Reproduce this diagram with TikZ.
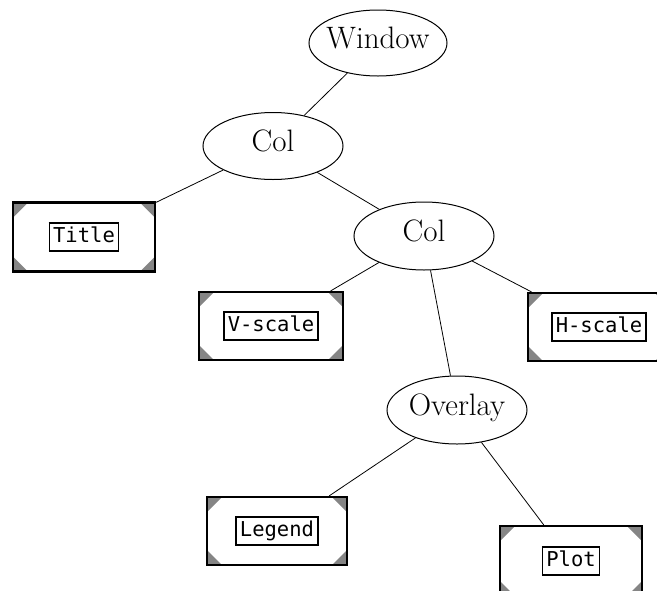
\documentclass[tikz,border=0pt]{standalone}
\usepackage{fontspec}
\newfontfamily\monofont{DejaVu Sans Mono}
\usetikzlibrary{shapes.geometric}
\setlength\fboxrule{1.5pt}
\setlength\fboxsep{3pt}
\newcommand\mytbox[1]{\fbox{\rule[-5pt]{0pt}{15.5pt}#1}}
\newcommand\myell[1]{\makebox[0pt]{#1}}
\tikzset{
  ell/.style={ellipse, draw, line width=1pt, inner sep=0pt,
    minimum width=140pt, minimum height=67pt,
    font=\fontsize{31}{31}\selectfont, text height=11pt, text depth=-11pt},
  cornerfill/.style={fill=black!48},
  wbox/.style={rectangle, draw, line width=2.2pt, inner sep=0pt,
    minimum width=142pt, minimum height=69pt,
    font=\monofont\fontsize{20.5}{20.5}\selectfont,
    path picture={
      \fill[cornerfill] (path picture bounding box.north west) -- ++(15pt,0pt) -- ++(-15pt,-15pt) -- cycle;
      \fill[cornerfill] (path picture bounding box.north east) -- ++(-15pt,0pt) -- ++(15pt,-15pt) -- cycle;
      \fill[cornerfill] (path picture bounding box.south west) -- ++(15pt,0pt) -- ++(-15pt,15pt) -- cycle;
      \fill[cornerfill] (path picture bounding box.south east) -- ++(-15pt,0pt) -- ++(15pt,15pt) -- cycle;
    }},
  conn/.style={line width=0.8pt}
}
\begin{document}
\begin{tikzpicture}[x=1pt,y=-1pt]
\useasboundingbox[fill=white] (0,0) rectangle (657,590);
\node[ell, minimum width=138pt, minimum height=66pt] (win) at (378,43) {\myell{Window}};
\node[ell] (col1) at (273,146) {\myell{Col}};
\node[ell, minimum height=68pt] (col2) at (424,236) {\myell{Col}};
\node[ell, minimum height=68pt] (ovl) at (457,410) {\myell{Overlay}};
\node[wbox] (title) at (84,237) {\mytbox{Title}};
\node[wbox, minimum width=144pt, minimum height=68pt] (vsc) at (271,326) {\mytbox{V-scale}};
\node[wbox, minimum height=68pt] (hsc) at (599,327) {\mytbox{H-scale}};
\node[wbox, minimum width=140pt, minimum height=68pt] (leg) at (277,531) {\mytbox{Legend}};
\node[wbox, minimum height=70pt] (plot) at (571,561) {\mytbox{Plot}};
\draw[conn] (win) -- (col1);
\draw[conn] (col1) -- (title);
\draw[conn] (col1) -- (col2);
\draw[conn] (col2) -- (vsc);
\draw[conn] (col2) -- (ovl);
\draw[conn] (col2) -- (hsc);
\draw[conn] (ovl) -- (leg);
\draw[conn] (ovl) -- (plot);
\end{tikzpicture}
\end{document}
